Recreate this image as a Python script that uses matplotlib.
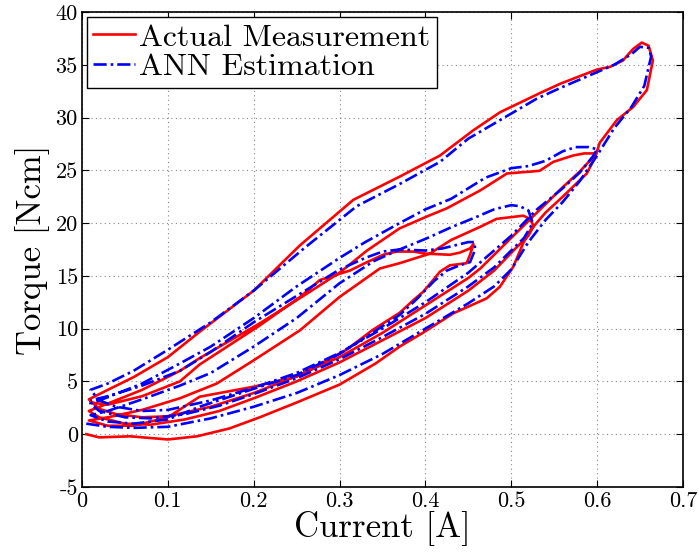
import numpy as np
import matplotlib
matplotlib.use("Agg")
import matplotlib.pyplot as plt

# Measured torque loops (red), one branch per list of (current, torque) points
meas_up1 = [(0.005, 0.0), (0.02, -0.3), (0.056, -0.2), (0.1, -0.5), (0.134, -0.2), (0.172, 0.55),
            (0.207, 1.6), (0.25, 3.0), (0.3, 4.7), (0.342, 6.7), (0.37, 8.3), (0.397, 9.6),
            (0.4325, 11.45), (0.4714, 12.87), (0.4868, 13.97), (0.5023, 15.86), (0.514, 18.1),
            (0.522, 19.3), (0.54, 21.0), (0.56, 22.5), (0.588, 24.7), (0.598, 26.3), (0.603, 27.6),
            (0.623, 29.75), (0.642, 31.0), (0.658, 32.6), (0.665, 35.4), (0.66, 36.8), (0.652, 37.1),
            (0.642, 36.5)]
meas_down1 = [(0.63, 35.4), (0.615, 34.8), (0.6, 34.55), (0.557, 33.2), (0.533, 32.3), (0.487, 30.5),
              (0.456, 28.8), (0.417, 26.4), (0.37, 24.4), (0.316, 22.2), (0.254, 17.9), (0.2, 13.6),
              (0.137, 9.7), (0.1, 7.3), (0.06, 5.4), (0.03, 4.2), (0.008, 3.3)]
meas_up2 = [(0.02, 2.4), (0.04, 1.9), (0.07, 1.6), (0.1, 1.7), (0.15, 2.6), (0.2, 3.9), (0.25, 5.5),
            (0.3, 7.3), (0.35, 9.6), (0.4, 12.2), (0.45, 14.8), (0.464, 15.7), (0.5, 18.6), (0.53, 21.0),
            (0.56, 23.4), (0.58, 24.9), (0.596, 26.3), (0.598, 26.6)]
meas_down2 = [(0.585, 26.6), (0.572, 26.4), (0.549, 25.8), (0.533, 24.95), (0.495, 24.7), (0.464, 23.1),
              (0.425, 21.4), (0.401, 20.6), (0.37, 19.5), (0.332, 17.4), (0.3, 15.3), (0.254, 12.9),
              (0.207, 10.5), (0.137, 7.2), (0.114, 6.0), (0.07, 4.2), (0.03, 2.9), (0.008, 2.2)]
meas_up3 = [(0.02, 1.6), (0.05, 1.0), (0.08, 0.9), (0.12, 1.4), (0.16, 2.2), (0.2, 3.4), (0.25, 5.0),
            (0.3, 6.8), (0.35, 8.9), (0.4, 11.0), (0.45, 13.6), (0.48, 15.5), (0.505, 17.6), (0.52, 18.8),
            (0.526, 19.7), (0.522, 20.4), (0.514, 20.7)]
meas_down3 = [(0.483, 20.4), (0.464, 19.65), (0.43, 18.4), (0.405, 17.1), (0.37, 16.2), (0.347, 15.7),
              (0.3, 13.0), (0.254, 9.85), (0.2, 7.0), (0.157, 4.8), (0.114, 3.4), (0.07, 2.3),
              (0.03, 1.6), (0.008, 1.3)]
meas_up4 = [(0.03, 0.8), (0.06, 0.8), (0.1, 1.6), (0.137, 3.55), (0.2, 4.5), (0.25, 5.45), (0.292, 7.3),
            (0.308, 8.0), (0.339, 9.9), (0.37, 11.5), (0.386, 12.7), (0.3975, 13.5), (0.409, 14.6),
            (0.417, 15.4), (0.4286, 16.0), (0.448, 16.2), (0.452, 17.0), (0.456, 18.0)]
meas_down4 = [(0.452, 17.6), (0.44, 17.2), (0.4286, 17.0), (0.401, 17.1), (0.386, 17.3), (0.366, 17.3),
              (0.351, 17.0), (0.332, 16.3), (0.312, 15.5), (0.277, 14.6), (0.254, 13.0), (0.207, 10.3),
              (0.137, 6.6), (0.114, 5.0), (0.07, 3.6), (0.03, 2.8), (0.01, 3.0)]

# ANN estimation loops (blue)
ann_up1 = [(0.005, 1.0), (0.03, 0.7), (0.06, 0.6), (0.1, 0.7), (0.15, 1.5), (0.2, 2.6), (0.25, 3.9),
           (0.3, 5.6), (0.35, 7.6), (0.4, 10.0), (0.45, 12.4), (0.48, 14.0), (0.5, 15.6), (0.52, 18.2),
           (0.54, 20.3), (0.56, 22.0), (0.58, 24.0), (0.6, 26.4), (0.62, 29.0), (0.64, 31.0),
           (0.655, 33.0), (0.663, 35.8), (0.66, 36.6), (0.65, 36.7), (0.64, 36.0)]
ann_down1 = [(0.62, 35.0), (0.6, 34.3), (0.56, 32.9), (0.53, 31.8), (0.49, 29.9), (0.45, 28.0),
             (0.417, 25.8), (0.37, 23.7), (0.32, 21.6), (0.26, 17.7), (0.2, 13.6), (0.15, 10.6),
             (0.1, 8.0), (0.06, 6.0), (0.03, 4.8), (0.01, 4.2)]
ann_up2 = [(0.02, 3.2), (0.04, 2.6), (0.07, 2.2), (0.1, 2.3), (0.15, 3.2), (0.2, 4.4), (0.25, 5.8),
           (0.3, 7.7), (0.35, 10.0), (0.4, 12.5), (0.45, 15.3), (0.5, 18.8), (0.53, 21.3), (0.56, 23.3),
           (0.58, 24.8), (0.595, 26.3), (0.6, 27.0)]
ann_down2 = [(0.59, 27.2), (0.575, 27.2), (0.56, 26.8), (0.54, 25.9), (0.52, 25.4), (0.5, 25.2),
             (0.47, 24.3), (0.43, 22.3), (0.4, 21.3), (0.37, 20.0), (0.33, 18.2), (0.3, 16.7),
             (0.25, 14.0), (0.2, 11.0), (0.15, 8.3), (0.114, 6.7), (0.07, 4.8), (0.03, 3.5), (0.01, 2.9)]
ann_up3 = [(0.02, 2.2), (0.05, 1.6), (0.08, 1.5), (0.12, 1.9), (0.16, 2.7), (0.2, 3.8), (0.25, 5.3),
           (0.3, 7.1), (0.35, 9.2), (0.4, 11.4), (0.45, 14.0), (0.48, 15.8), (0.5, 17.4), (0.515, 18.6),
           (0.525, 20.0), (0.52, 21.2), (0.51, 21.6), (0.5, 21.7)]
ann_down3 = [(0.48, 21.3), (0.46, 20.6), (0.43, 19.6), (0.4, 18.5), (0.37, 17.5), (0.34, 16.4),
             (0.3, 14.3), (0.25, 11.0), (0.2, 8.3), (0.15, 5.8), (0.114, 4.6), (0.07, 3.3),
             (0.03, 2.2), (0.01, 1.8)]
ann_up4 = [(0.03, 1.2), (0.06, 1.0), (0.1, 1.4), (0.137, 2.6), (0.2, 4.3), (0.25, 5.6), (0.3, 7.6),
           (0.34, 9.7), (0.37, 11.3), (0.39, 12.8), (0.41, 14.5), (0.425, 15.5), (0.44, 16.0),
           (0.452, 16.3), (0.458, 17.5), (0.457, 18.2)]
ann_down4 = [(0.45, 18.2), (0.44, 18.0), (0.42, 17.6), (0.4, 17.4), (0.37, 17.5), (0.35, 17.3),
             (0.33, 16.7), (0.3, 15.6), (0.26, 13.6), (0.2, 10.6), (0.15, 7.8), (0.114, 6.0),
             (0.07, 4.6), (0.03, 3.6), (0.01, 3.2)]

meas = np.array(meas_up1 + meas_down1 + meas_up2 + meas_down2 + meas_up3 + meas_down3 + meas_up4 + meas_down4)
ann = np.array(ann_up1 + ann_down1 + ann_up2 + ann_down2 + ann_up3 + ann_down3 + ann_up4 + ann_down4)

plt.rcParams["font.family"] = "cmr10"
plt.rcParams["mathtext.fontset"] = "cm"
plt.rcParams["axes.unicode_minus"] = False
plt.rcParams["axes.formatter.use_mathtext"] = False

fig = plt.figure(figsize=(6.99, 5.52), dpi=100)
ax = fig.add_axes([0.1173, 0.1178, 0.8597, 0.8605])

ax.plot(meas[:, 0], meas[:, 1], color="red", lw=1.9, label="Actual Measurement")
ax.plot(ann[:, 0], ann[:, 1], color="blue", lw=1.9, ls=(0, (5, 1.5, 1, 1.5)), label="ANN Estimation")

ax.set_xlim(0, 0.7)
ax.set_ylim(-5, 40)
ax.set_xticks(np.arange(0, 0.71, 0.1))
ax.set_xticklabels(["0", "0.1", "0.2", "0.3", "0.4", "0.5", "0.6", "0.7"])
ax.set_yticks(np.arange(-5, 41, 5))
ax.set_yticklabels([str(v) for v in range(-5, 41, 5)])
ax.tick_params(direction="in", top=True, right=True, labelsize=16, length=5, pad=3)
ax.grid(True, ls=(0, (1, 3)), color="#888888", lw=0.8)
for s in ax.spines.values():
    s.set_linewidth(1.2)

ax.set_xlabel("Current [A]", fontsize=25, labelpad=0)
ax.set_ylabel("Torque [Ncm]", fontsize=25, labelpad=4)

leg = ax.legend(loc="upper left", fontsize=23, fancybox=False, framealpha=1, edgecolor="black",
                handlelength=1.3, borderpad=0.2, labelspacing=0.05, handletextpad=0.15,
                borderaxespad=0.15)
leg.get_frame().set_linewidth(1.0)

fig.savefig("out.png", dpi=100)
